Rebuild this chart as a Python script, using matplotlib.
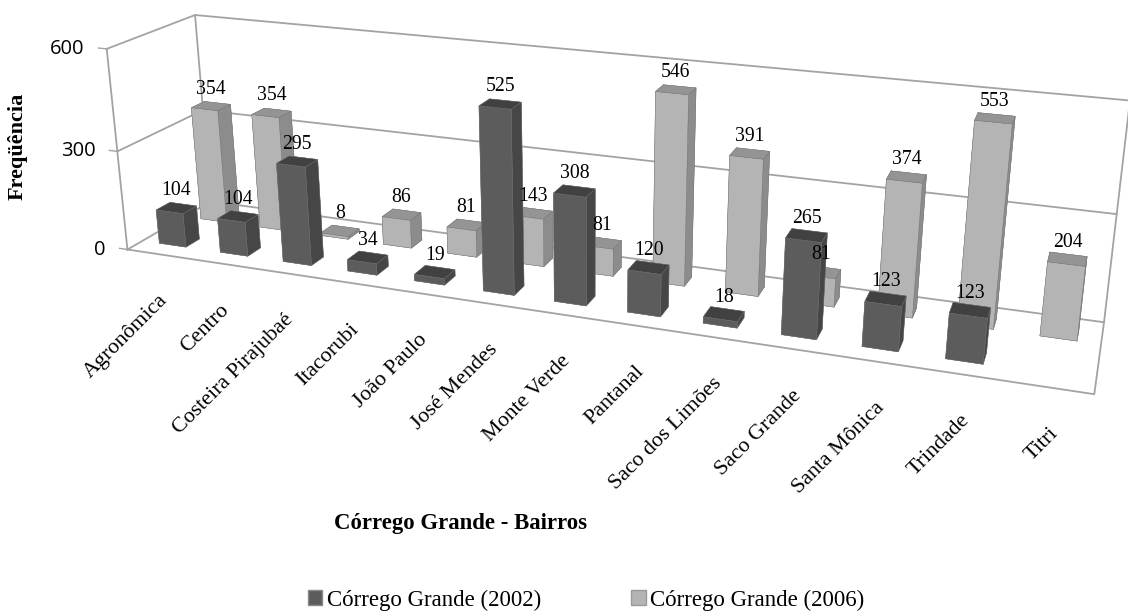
import numpy as np
import matplotlib
matplotlib.use("Agg")
import matplotlib.pyplot as plt
from matplotlib.patches import Patch
from mpl_toolkits.mplot3d import proj3d

bairros = ["Agronômica", "Centro", "Costeira Pirajubaé", "Itacorubi", "João Paulo",
           "José Mendes", "Monte Verde", "Pantanal", "Saco dos Limões", "Saco Grande",
           "Santa Mônica", "Trindade", "Titri"]
# 2002 nao tem barra em Titri
freq_2002 = [104, 104, 295, 34, 19, 525, 308, 120, 18, 265, 123, 123, None]
freq_2006 = [354, 354, 8, 86, 81, 143, 81, 546, 391, 81, 374, 553, 204]
ticks_z = [0, 300, 600]
series = ["Córrego Grande (2002)", "Córrego Grande (2006)"]

SERIF = "Liberation Serif"
GRID = "#a3a3a3"
# cores das faces: baixo, topo, frente, fundo, esquerda, direita
DARK = ["#444444", "#414141", "#5c5c5c", "#444444", "#444444", "#464646"]
LIGHT = ["#8a8a8a", "#949494", "#b4b4b4", "#8a8a8a", "#8a8a8a", "#8c8c8c"]

fig = plt.figure(figsize=(11.28, 6.14), dpi=100)
ax = fig.add_axes([71 / 1128, -84.6 / 614, 1008 / 1128, 1008 / 614], projection="3d",
                  computed_zorder=False)
ax.view_init(elev=19.2, azim=-70, roll=0)
ax.set_proj_type("persp", focal_length=0.29)
ax.set_box_aspect((1.76, 0.285, 0.392))
ax.set_axis_off()
n = len(bairros)
ax.set_xlim(0, n, view_margin=0)
ax.set_ylim(0, 2, view_margin=0)
ax.set_zlim(0, 600, view_margin=0)
M = ax.get_proj()


def label(x, y, z, txt, dx=0, dy=0, **kw):
    # escreve texto 2D na posicao projetada, com deslocamento em pixels
    px, py, _ = proj3d.proj_transform(x, y, z, M)
    ax.annotate(txt, xy=(px, py), xytext=(dx * 0.72, dy * 0.72), textcoords="offset points",
                annotation_clip=False, zorder=100, **kw)


# paredes e piso
for z in ticks_z:
    ax.plot([0, 0, n], [0, 2, 2], [z, z, z], color=GRID, lw=1.3, zorder=0.5, clip_on=False)
    ax.plot([-0.13, 0], [0, 0], [z, z], color=GRID, lw=1.0, zorder=0.5, clip_on=False)
    label(0, 0, z, str(z), dx=-22, ha="right", va="center", fontsize=14.5, family="Open Sans")
ax.plot([0, 0], [0, 0], [0, 600], color=GRID, lw=1.3, zorder=0.5, clip_on=False)
ax.plot([0, 0], [2, 2], [0, 600], color=GRID, lw=1.3, zorder=0.5, clip_on=False)
ax.plot([n, n], [2, 2], [0, 600], color=GRID, lw=1.3, zorder=0.5, clip_on=False)
ax.plot([0, n, n], [0, 0, 2], [0, 0, 0], color=GRID, lw=1.3, zorder=0.5, clip_on=False)

# barras de tras para frente
bw = 0.44
bd = 0.32
order = 1.0
for row, (vals, cols) in enumerate([(freq_2006, LIGHT), (freq_2002, DARK)]):
    y0 = 1.34 if row == 0 else 0.34
    for i, v in enumerate(vals):
        if v is None:
            continue
        ax.bar3d(i + 0.5 - bw / 2, y0, 0, bw, bd, v, color=cols, shade=False,
                 edgecolor="#777777", linewidth=0.3, zorder=order, clip_on=False)
        order += 0.01
        label(i + 0.5, y0 + bd / 2, v, str(v), dy=17, ha="center", va="center", fontsize=14.2,
              family=SERIF)

ax.set_xlim(0, n, view_margin=0)
ax.set_ylim(0, 2, view_margin=0)
ax.set_zlim(0, 600, view_margin=0)

# nomes dos bairros
for i, nome in enumerate(bairros):
    label(i + 0.5, 0, 0, nome, dy=-37, rotation=45, ha="right", va="top",
          rotation_mode="anchor", fontsize=15.8, family=SERIF)

fig.text(18 / 1128, 1 - 146 / 614, "Freqüência", rotation=90, ha="center", va="center",
         fontsize=16, fontweight="bold", family=SERIF)
fig.text(460 / 1128, 1 - 523 / 614, "Córrego Grande - Bairros", ha="center", va="center",
         fontsize=16.4, fontweight="bold", family=SERIF)
handles = [Patch(facecolor="#5c5c5c", edgecolor="#8a8a8a"),
           Patch(facecolor="#b4b4b4", edgecolor="#9a9a9a")]
fig.legend(handles, series, loc="center", bbox_to_anchor=(586 / 1128, 1 - 600 / 614), ncol=2,
           frameon=False, handlelength=0.65, handleheight=0.65, handletextpad=0.2,
           columnspacing=3.9, prop={"family": SERIF, "size": 16.5})

fig.savefig("out.png", dpi=100)
